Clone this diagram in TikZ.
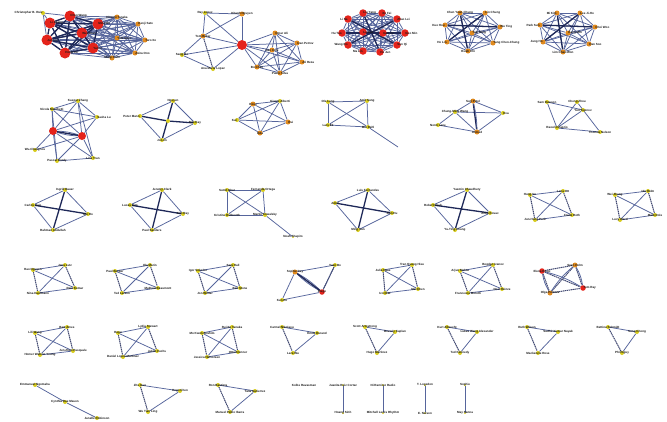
\documentclass[tikz,border=0pt]{standalone}
\usepackage{fontspec}
\setmainfont{Liberation Sans}
\usetikzlibrary{backgrounds}
\definecolor{edgec}{HTML}{56659C}
\definecolor{edgek}{HTML}{1E2858}
\definecolor{cR}{HTML}{E4231B}
\definecolor{cO}{HTML}{E08A1E}
\definecolor{cY}{HTML}{D8CC1C}
\tikzset{
 vtx/.style={circle, inner sep=0pt, draw=none},
 lab/.style={font=\fontsize{3}{3.4}\selectfont\bfseries, text=black!90, inner sep=0.2pt},
 e/.style={draw=edgec, line width=0.75pt},
 ed/.style={draw=edgek!85, line width=1pt, dash pattern=on 1.4pt off 0.6pt},
 te/.style={draw=edgek, line width=1.3pt},
}
\newcommand\Gnodes[2]{\foreach \n/\x/\y/\c/\s/\t/\p in {#2}{\node[vtx, fill=\c, minimum size=\s pt] (#1n\n) at (\x,\y) {}; \node[lab, anchor=\p] (#1t\n) at (\x,\y) {\t};}}
\newcommand\Gedges[3][e]{\foreach \a/\b in {#3}{\draw[#1] (#2n\a) -- (#2n\b);}}
\newcommand\Gfull[3][e]{\foreach \i in {#3}{\foreach \j in {#3}{\ifnum\i<\j\relax \draw[#1] (#2n\i) -- (#2n\j);\fi}}}
\newcommand\Gsq[1]{\Gedges[ed]{#1}{1/3,2/4}\Gedges{#1}{1/2,3/4,1/4,2/3}}
\newcommand\Gtri[1]{\Gedges[ed]{#1}{1/3}\Gedges{#1}{1/2,2/3}}
\begin{document}
\begin{tikzpicture}[x=1pt,y=-1pt]
\useasboundingbox (0,0) rectangle (667,421);
% ---------- row 1
\Gnodes{a}{1/43/13/cY/4/Christopher B. Ruiz/east, 2/70/16/cR/11/Chen Wang/west, 3/50/23/cR/11/Li Zhang/west, 4/98/24/cR/11/Ming Hu/west, 5/82/33/cR/11/Wei Chen/west, 6/47/40/cR/11/Jun Liu/west, 7/93/48/cR/11/Yan Li/west, 8/65/53/cR/11/Hong Xu/west, 9/117/17/cO/5/Hiroshi Tanaka/center, 10/138/24/cO/5/Kenji Sato/west, 11/117/38/cO/5/Yuki Mori/west, 12/145/40/cO/5/Taro Ito/west, 13/135/53/cO/5/Akira Ono/west, 14/112/58/cO/5/Shinji Kato/center}
\Gnodes{b}{1/205/13/cY/4/Ray Lopez/center, 2/242/14/cO/5/Khanh Nguyen/center, 3/203/36/cO/5/Tom Baker/center, 4/182/55/cY/4/Sang Ho/center, 5/213/69/cY/4/Ana Maria Lopez/center, 6/242/45/cR/10/{}/center, 7/275/33/cO/5/Omar Ali/west, 8/297/43/cO/5/Ivan Petrov/west, 9/272/50/cO/5/Dan Cole/center, 10/302/62/cO/5/Ali Reza/west, 11/257/67/cO/5/Bo Chan/center, 12/280/73/cO/5/Paulo Silva/center}
\Gnodes{c}{1/363/13/cR/7.5/Liu Yang/west, 2/382/13/cR/7.5/Xu Fei/west, 3/397/19/cR/7.5/Zhao Lei/west, 4/405/33/cR/7.5/Guo Min/west, 5/397/45/cR/7.5/Sun Qi/west, 6/380/52/cR/7.5/He Jun/west, 7/363/51/cR/7.5/Ma Lin/east, 8/348/45/cR/7.5/Wang Bo/east, 9/342/33/cR/7.5/Hu Tao/east, 10/348/19/cR/7.5/Li Na/east, 11/363/32/cR/7.5/Lu Hao/west, 12/383/33/cR/7.5/Gao Yu/west}
\Gnodes{d}{1/460/13/cO/5/Chen Yuan-Chung/center, 2/485/13/cO/5/Lin Chung/west, 3/445/25/cO/5/Kuo Hsu/east, 4/500/27/cO/5/Wu Ting/west, 5/472/33/cO/5/Tsai Ming/west, 6/447/42/cO/5/Ho Lin/east, 7/493/43/cO/5/Yang Chen-Chung/west, 8/468/51/cO/5/Hsieh Chi/center}
\Gnodes{f}{1/557/13/cO/5/Mi Kim/east, 2/580/13/cO/5/Lee Ji-Ho/west, 3/540/25/cO/5/Park Sun/east, 4/595/27/cO/5/Choi Woo/west, 5/568/33/cO/5/Kang Min/west, 6/543/42/cO/5/Jung Ho/east, 7/589/44/cO/5/Han Soo/west, 8/563/52/cO/5/Lim Chae-Won/center}
% ---------- row 2
\Gnodes{g}{1/78/101/cY/4/Kaspar Zhang/center, 2/52/109/cY/4/Nicola Marchetti/center, 3/97/117/cY/4/Sasha Lu/west, 4/53/131/cR/8/{}/center, 5/82/136/cR/8/{}/center, 6/35/150/cY/4/Wu-Chang Liu/center, 7/57/161/cY/4/Pascal Bordy/center, 8/93/158/cY/4/Lisa Tran/center}
\Gnodes{h}{1/173/101/cY/4/Nguyen/center, 2/140/116/cY/4/Peter Mann/east, 3/168/121/cY/4/{}/center, 4/195/123/cY/4/Rita Kay/center, 5/162/140/cY/4/Jo Lim/center}
\Gnodes{i}{1/253/104/cO/5/Ross/center, 2/280/101/cY/4/Gianni Alberti/center, 3/237/120/cY/4/Kai/east, 4/288/122/cO/5/Rui/west, 5/260/133/cO/5/Oda/center}
\Gnodes{j}{1/328/102/cY/4/Ole Lang/center, 2/367/101/cY/4/Amit Sung/center, 3/328/125/cY/4/Lars Ek/center, 4/368/127/cY/4/Mio Dahl/center}
\coordinate (jn5) at (398,147);
\Gnodes{k}{1/473/101/cO/5/Suri Patel/center, 2/455/112/cY/4/Chung-Ming Wang/center, 3/503/113/cY/4/Eva/west, 4/438/125/cY/4/Norm Lane/center, 5/477/132/cO/5/Ahmed/center}
\Gnodes{l}{1/547/102/cY/4/Sam Dawson/center, 2/577/102/cY/4/Cheng Zhou/center, 3/583/110/cY/4/Yuri Kuznov/center, 4/557/128/cY/4/Raoul Dicaprio/center, 5/600/132/cY/4/Thomas Nelson/center}
% ---------- row 3
\Gnodes{m}{1/65/190/cY/4/Ingrid Bauer/center, 2/33/205/cY/4/Carlos Ruiz/center, 3/88/214/cY/4/Mei Ho/center, 4/53/230/cY/4/Rahman Abdullah/center}
\Gnodes{n}{1/162/190/cY/4/Jeremy Clark/center, 2/130/205/cY/4/Lucas Birn/center, 3/183/214/cY/4/Kim Ray/center, 4/152/230/cY/4/Paul Sanders/center}
\Gnodes{o}{1/227/190/cY/4/Sumit Dhar/center, 2/263/190/cY/4/Fernanda Ortega/center, 3/227/215/cY/4/Kristine Hallworth/center, 4/265/215/cY/4/Martin Kowalsky/center, 5/293/237/cY/2/Noah Shapiro/center}
\Gnodes{p}{1/368/190/cY/4/Luis Fernandes/center, 2/335/203/cY/4/Amal/center, 3/392/213/cY/4/Jian Hu/center, 4/358/230/cY/4/Ming Sun/center}
\Gnodes{q}{1/467/190/cY/4/Yasmin Chaudhury/center, 2/433/205/cY/4/Robert Nash/center, 3/490/213/cY/4/Anna Kovac/center, 4/455/230/cY/4/Yu-Ting Chang/center}
\Gnodes{r}{1/530/195/cY/4/Hung Vu/center, 2/563/191/cY/4/Lena Ott/center, 3/535/220/cY/4/Jun-Hong Park/center, 4/572/215/cY/4/Frank Roth/center}
\Gnodes{s}{1/615/195/cY/4/Wei Zhang/center, 2/648/191/cY/4/Ida Holm/center, 3/620/220/cY/4/Lucy Ward/center, 4/655/215/cY/4/Mark Dole/center}
% ---------- row 4
\Gnodes{t}{1/33/270/cY/4/Hao Nguyen/center, 2/65/265/cY/4/Jana Lutz/center, 3/38/293/cY/4/Nina Kaufmann/center, 4/75/288/cY/4/Ravi Kumar/center}
\Gnodes{u}{1/115/271/cY/4/Paul Becker/center, 2/150/265/cY/4/Ela Marin/center, 3/122/293/cY/4/Ted Larsen/center, 4/158/288/cY/4/Mathieu Beaumont/center}
\Gnodes{w}{1/198/271/cY/4/Igor Sokolov/center, 2/233/265/cY/4/Sara Hall/center, 3/205/293/cY/4/Jon Winter/center, 4/240/288/cY/4/Ben Stone/center}
\Gnodes{x}{1/295/272/cO/5/Sophie Rey/center, 2/335/265/cY/4/Yuan Bo/center, 3/322/292/cR/5.5/Diego/center, 4/282/300/cY/4/Ken Ito/center}
\Gnodes{z}{1/383/270/cY/4/Julia Haas/center, 2/412/265/cY/4/Tran Quang Hieu/center, 3/385/293/cY/4/Ivo Diaz/center, 4/418/289/cY/4/Mei Chen/center}
\Gnodes{aa}{1/460/271/cY/4/Arjun Mehta/center, 2/493/265/cY/4/Bogdan Ivanov/center, 3/468/293/cY/4/Francesca Moretti/center, 4/502/289/cY/4/Noel Heinze/center}
\Gnodes{ab}{1/542/271/cR/5.5/Elena Rossi/center, 2/575/265/cO/5/Sven Holm/center, 3/550/293/cO/5/Olga Petrova/center, 4/583/288/cR/5.5/Tom Ray/west}
% ---------- row 5
\Gnodes{ac}{1/35/333/cY/4/Lili Wang/center, 2/67/327/cY/4/Bart Ames/center, 3/40/355/cY/4/Homer Watson Young/center, 4/73/351/cY/4/Jun Zhao Pasquale/center}
\Gnodes{ad}{1/118/333/cY/4/Hugo/center, 2/148/327/cY/4/Lydia Stewart/center, 3/123/357/cY/4/Daniel Lopez-Martinez/center, 4/157/351/cY/4/Jakob Fuchs/center}
\Gnodes{ae}{1/202/333/cY/4/Mo Kwon Ibrahim/center, 2/232/327/cY/4/Rui Xu Tanaka/center, 3/207/357/cY/4/Jessica Halvorsen/center, 4/238/352/cY/4/Otto Brenner/center}
\Gnodes{af}{1/282/327/cY/4/Carmel Nikolaou/center, 2/317/333/cY/4/Emile Durand/center, 3/293/353/cY/4/Lara Wu/center}
\Gnodes{ag}{1/365/327/cY/4/Scott Armstrong/center, 2/395/332/cY/4/Beverly Kaplan/center, 3/377/353/cY/4/Hugo Martinez/center}
\Gnodes{ah}{1/447/327/cY/4/Kurt Albrecht/center, 2/477/332/cY/4/Lukas Wang Alexander/center, 3/460/353/cY/4/Ted Kennedy/center}
\Gnodes{ai}{1/527/327/cY/4/Ruth Wilson/center, 2/558/332/cY/4/Sudhir Kumar Nayak/center, 3/538/353/cY/4/Mackenzie Ross/center}
\Gnodes{aj}{1/608/327/cY/4/Bettina Schmidt/center, 2/637/332/cY/4/Sung Chong/center, 3/622/353/cY/4/Phil Nguy/center}
% ---------- row 6
\Gnodes{ak}{1/35/385/cY/4/Emmanuel Ngomaha/center, 2/65/402/cY/4/Cynthia Rae Mason/center, 3/97/418/cY/4/Janelle Robinson/center}
\Gnodes{al}{1/140/385/cY/4/Zhu Guo/center, 2/180/391/cY/4/Hugo Chen/center, 3/148/412/cY/4/Wu Tian Ling/center}
\Gnodes{am}{1/218/385/cY/4/Ron Bautista/center, 2/255/391/cY/4/Talia Gutierrez/center, 3/230/412/cY/4/Manuel Pablo Ibarra/center}
\node[lab] (kolbe) at (304,385) {Kolbe Ravasman};
\Gnodes{an}{1/343/385/cY/2/Juanita Ruiz Cortez/center, 2/343/413/cY/2/Hoang Sinh/center}
\Gnodes{ao}{1/383/385/cY/2/Ni Ramirez Radio/center, 2/383/413/cY/2/Mitchell Lewis Rhythm/center}
\Gnodes{ap}{1/425/385/cY/2/T. Logsdon/center, 2/425/413/cY/2/E. Nelson/center}
\Gnodes{aq}{1/465/385/cY/2/Sophie/center, 2/465/413/cY/2/May Nanna/center}
% ---------- edges
\begin{scope}[on background layer]
\fill[white] (0,0) rectangle (667,421);
\Gfull{a}{2,...,14}
\Gfull[te]{a}{2,...,8}
\Gedges{a}{1/3,1/6,1/2}
\Gedges{b}{1/2,1/3,1/6,2/6,2/3,3/4,3/6,4/6,5/6,4/5}
\Gedges[ed]{b}{3/5}
\Gedges{b}{6/7,6/8,6/9,6/10,6/11,6/12}
\Gfull{b}{7,...,12}
\Gfull{c}{1,...,12}
\Gedges[te]{c}{9/4,1/6,10/5,3/8,11/12}
\Gfull{d}{1,...,8}
\Gedges[te]{d}{3/4,1/8,6/2}
\Gfull{f}{1,...,8}
\Gedges[te]{f}{3/4,1/8,6/2}
\Gedges{g}{1/2,1/3,1/4,1/5,2/3,2/4,2/5,3/4,3/5,4/6,4/7,4/8,5/6,5/7,5/8,7/8,1/8,2/7}
\draw[e] (gn4) to[bend left=8] (gn5);
\draw[e] (gn4) to[bend right=8] (gn5);
\Gedges[te]{g}{4/5}
\Gedges{h}{1/2,1/4,2/5,4/5}
\Gedges[te]{h}{1/5,2/3,3/4}
\Gfull{i}{1,...,5}
\Gedges{j}{1/2,1/3,2/4,3/4,1/4,2/3}
\draw[e] (jn4) -- (jn5);
\Gedges{k}{1/2,1/3,2/3,2/5,3/5,4/2,4/5}
\Gedges[te]{k}{1/5}
\draw[e] (kn1) to[bend left=6] (kn5);
\Gedges{l}{1/4,2/4,3/4,2/5,4/5,1/3}
\Gedges{m}{1/2,1/3,2/4,3/4}
\Gedges[te]{m}{1/4,2/3}
\Gedges{n}{1/2,1/3,2/4,3/4}
\Gedges[te]{n}{1/4,2/3}
\Gedges{o}{1/2,1/3,2/4,3/4,1/4,2/3,4/5}
\Gedges{p}{1/2,1/3,2/4,3/4}
\Gedges[te]{p}{1/4,2/3}
\Gedges{q}{1/2,1/3,2/4,3/4}
\Gedges[te]{q}{1/4,2/3}
\Gsq{r}
\Gsq{s}
\Gsq{t}
\Gsq{u}
\Gsq{w}
\Gedges{x}{1/2,2/3,1/4,4/3}
\Gedges[ed]{x}{2/3}
\draw[e] (xn1) to[bend left=7] (xn3);
\draw[e] (xn1) to[bend right=7] (xn3);
\Gedges[te]{x}{1/3}
\Gsq{z}
\Gsq{aa}
\Gfull[ed]{ab}{1,...,4}
\draw[e] (abn1) to[bend left=8] (abn4);
\draw[e] (abn2) to[bend right=8] (abn3);
\draw[e] (abn1) to[bend right=10] (abn3);
\draw[e] (abn2) to[bend left=10] (abn4);
\Gsq{ac}
\Gsq{ad}
\Gsq{ae}
\Gtri{af}
\Gtri{ag}
\Gtri{ah}
\Gtri{ai}
\Gtri{aj}
\Gedges{ak}{1/2,2/3}
\Gtri{al}
\Gtri{am}
\Gedges{an}{1/2}
\Gedges{ao}{1/2}
\Gedges{ap}{1/2}
\Gedges{aq}{1/2}
\end{scope}
\end{tikzpicture}
\end{document}
